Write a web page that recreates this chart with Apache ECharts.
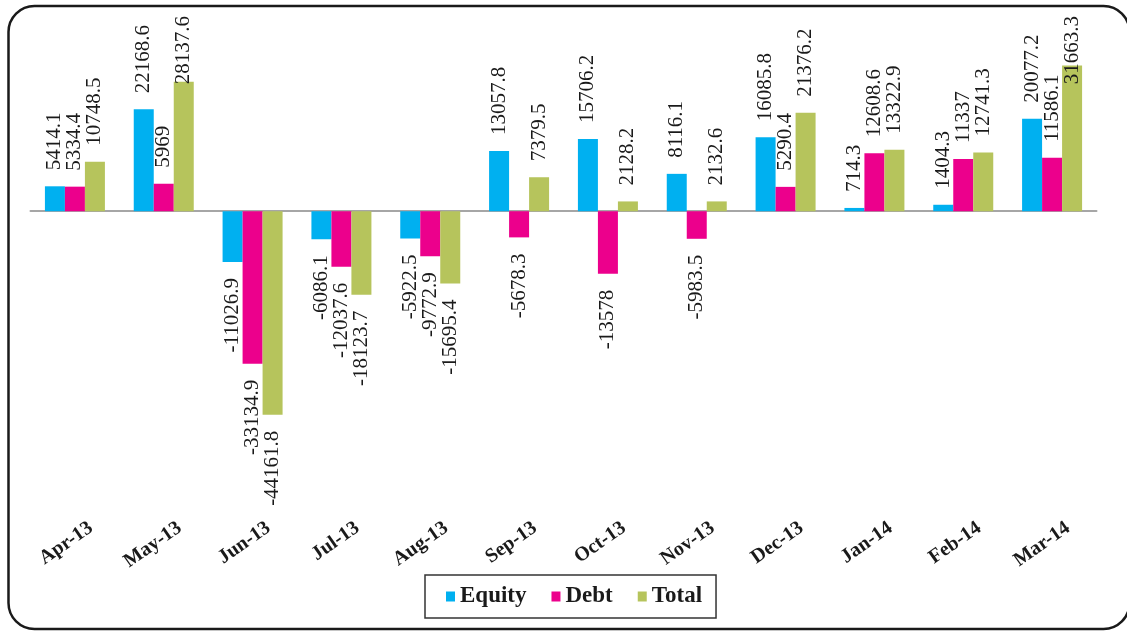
<!DOCTYPE html>
<html>
<head>
<meta charset="utf-8">
<script src="https://cdn.jsdelivr.net/npm/echarts@6/dist/echarts.min.js"></script>
<style>
html,body{margin:0;padding:0;background:#fff;}
#chart{width:1127px;height:631px;}
</style>
</head>
<body>
<div id="chart"></div>
<script>
const categories = ['Apr-13','May-13','Jun-13','Jul-13','Aug-13','Sep-13','Oct-13','Nov-13','Dec-13','Jan-14','Feb-14','Mar-14'];
const equity = [5414.1, 22168.6, -11026.9, -6086.1, -5922.5, 13057.8, 15706.2, 8116.1, 16085.8, 714.3, 1404.3, 20077.2];
const debt   = [5334.4, 5969, -33134.9, -12037.6, -9772.9, -5678.3, -13578, -5983.5, 5290.4, 12608.6, 11337, 11586.1];
const total  = [10748.5, 28137.6, -44161.8, -18123.7, -15695.4, 7379.5, 2128.2, 2132.6, 21376.2, 13322.9, 12741.3, 31663.3];
const seriesNames = ['Equity', 'Debt', 'Total'];
const seriesColors = ['#00B0F0', '#EC008C', '#B6C45C'];

const serif = '"Liberation Serif", "DejaVu Serif", serif';
const labelBase = { show: true, rotate: 90, distance: 16, fontFamily: serif, fontSize: 21, color: '#1a1a1a', verticalAlign: 'middle' };
function makeData(vals) {
  return vals.map(v => ({
    value: v,
    label: v < 0 ? Object.assign({}, labelBase, { position: 'bottom', align: 'right' })
                 : Object.assign({}, labelBase, { position: 'top', align: 'left' })
  }));
}
const seriesData = [equity, debt, total];
const LABEL_TOP_LIMIT = 16;

const chart = echarts.init(document.getElementById('chart'), null, { renderer: 'canvas' });
chart.setOption({
  animation: false,
  backgroundColor: '#fff',
  graphic: [{
    type: 'rect', z: 100, silent: true,
    shape: { x: 8.5, y: 6, width: 1121, height: 623, r: 26 },
    style: { fill: 'none', stroke: '#1a1a1a', lineWidth: 2.5 }
  }],
  grid: [
    { left: 30.5, width: 1066, top: 27, height: 479 },
    { left: 46.5, width: 1066, top: 27, height: 479 }
  ],
  xAxis: [
    { type: 'category', gridIndex: 0, data: categories,
      axisLine: { onZero: true, lineStyle: { color: '#A6A6A6', width: 2 } },
      axisTick: { show: false }, axisLabel: { show: false }, splitLine: { show: false } },
    { type: 'category', gridIndex: 1, data: categories, position: 'bottom',
      axisLine: { show: false, onZero: false }, axisTick: { show: false }, splitLine: { show: false },
      axisLabel: { rotate: 35, margin: 20, fontFamily: serif, fontWeight: 'bold', fontSize: 20, color: '#1a1a1a', interval: 0 } }
  ],
  yAxis: [
    { type: 'value', gridIndex: 0, min: -64000, max: 40000, show: false, splitLine: { show: false } },
    { type: 'value', gridIndex: 1, min: 0, max: 1, show: false, splitLine: { show: false } }
  ],
  legend: {
    data: seriesNames,
    left: 425, top: 575,
    orient: 'horizontal',
    icon: 'rect', itemWidth: 9, itemHeight: 10, itemGap: 25,
    padding: [10, 14, 10, 21],
    borderColor: '#333', borderWidth: 1.5,
    textStyle: { fontFamily: serif, fontWeight: 'bold', fontSize: 23, color: '#1a1a1a' }
  },
  labelLayout: function (params) {
    const r = params.labelRect;
    if (r && r.y < LABEL_TOP_LIMIT) return { dx: -(LABEL_TOP_LIMIT - r.y) };
    return {};
  },
  series: seriesNames.map((name, i) => ({
    name: name, type: 'bar', xAxisIndex: 0, yAxisIndex: 0,
    barWidth: 20, barGap: '0%',
    itemStyle: { color: seriesColors[i] },
    data: makeData(seriesData[i])
  }))
});
</script>
</body>
</html>
